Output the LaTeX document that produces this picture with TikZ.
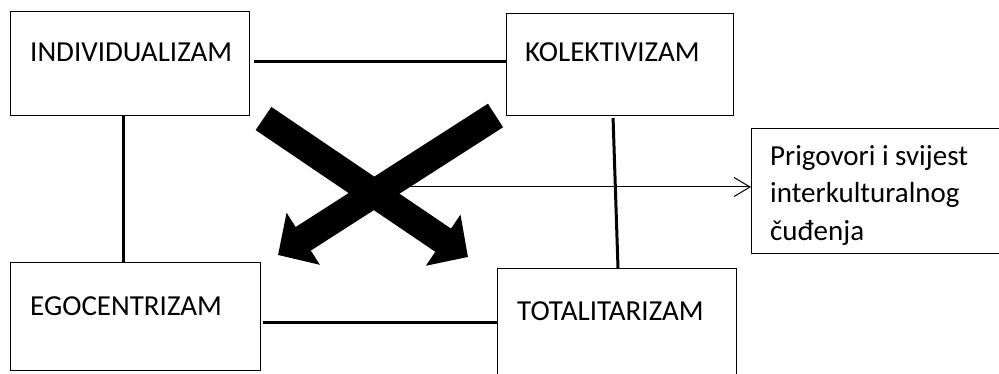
\documentclass[tikz,border=0pt]{standalone}
\usepackage{fontspec}
\setmainfont{Carlito}
\usetikzlibrary{arrows.meta,positioning,calc}

\begin{document}
\begin{tikzpicture}[x=1pt, y=-1pt,
    box/.style={draw, line width=1pt, anchor=north west, inner sep=0pt},
    lbl/.style={anchor=base west, inner sep=0pt, font=\fontsize{29}{38}\selectfont},
    link/.style={line width=3pt},
    bigarrow/.style={line width=28pt, -{Triangle[length=30pt, width=60pt]}}]
    \useasboundingbox (0,0) rectangle (999,374);

    % Boxes
    \node[box, minimum width=239pt, minimum height=104pt] (ind) at (10,11) {};
    \node[box, minimum width=227pt, minimum height=102pt] (kol) at (506,13) {};
    \node[box, minimum width=250pt, minimum height=108pt] (ego) at (10,262) {};
    \node[box, minimum width=239pt, minimum height=125pt] (tot) at (497,268) {};
    \node[box, minimum width=260pt, minimum height=125pt] (pri) at (751,128) {};

    % Labels
    \node[lbl] at ([xshift=20pt, yshift=-51pt]ind.north west) {INDIVIDUALIZAM};
    \node[lbl] at ([xshift=19pt, yshift=-49pt]kol.north west) {KOLEKTIVIZAM};
    \node[lbl] at ([xshift=20pt, yshift=-53pt]ego.north west) {EGOCENTRIZAM};
    \node[lbl] at ([xshift=20pt, yshift=-52pt]tot.north west) {TOTALITARIZAM};
    \node[lbl, align=left] at ([xshift=19pt, yshift=-113pt]pri.north west)
        {Prigovori i svijest\\interkulturalnog\\čuđenja};

    % Connecting lines
    \draw[link, shorten <=4pt] ([yshift=2pt]ind.east) -- ([yshift=2pt]ind.east -| kol.west);
    \draw[link] ([xshift=-7pt]ind.south) -- ([xshift=-7pt]ind.south |- ego.north);
    \draw[link, shorten <=2pt] ([yshift=-6pt]ego.east) -- ([yshift=-6pt]ego.east -| tot.west);
    \draw[link, shorten <=2pt] ([xshift=-7pt]kol.south) -- ([xshift=1pt]tot.north);

    % Crossing arrows
    \coordinate (cross) at (374,187);
    \coordinate (tailL) at (263.5,118.5);
    \coordinate (tailR) at (495.5,115.5);
    \coordinate (tipR) at (468,257);
    \coordinate (tipL) at (278,255);
    \draw[line width=1pt, -{Straight Barb[length=16pt, width=19pt]}] (cross) -- (cross -| pri.west);
    \draw[bigarrow] (tailL) -- (tipR);
    \draw[bigarrow] (tailR) -- (tipL);
\end{tikzpicture}
\end{document}
